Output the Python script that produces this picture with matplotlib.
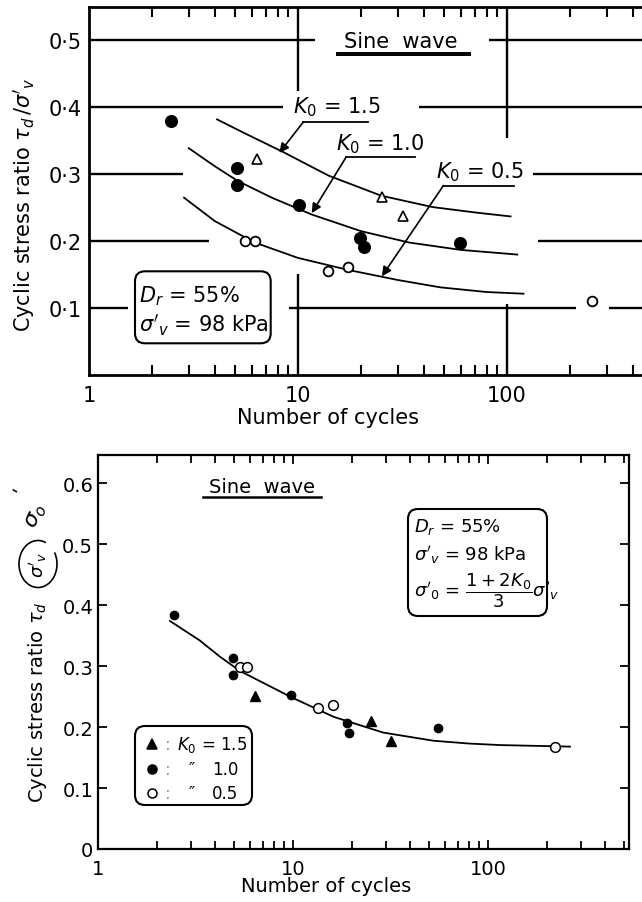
import matplotlib
matplotlib.use("Agg")
import matplotlib.pyplot as plt
from matplotlib.patches import FancyBboxPatch, Arc
from matplotlib.lines import Line2D
from matplotlib.ticker import LogLocator, NullFormatter

plt.rcParams['font.family'] = ['DejaVu Sans']
plt.rcParams['mathtext.fontset'] = 'dejavusans'

# upper chart: tau_d / sigma'_v against number of cycles
k15_n = [6.4, 25.3, 31.7]
k15_r = [0.323, 0.266, 0.238]
k10_n = [2.48, 5.08, 5.08, 10.1, 19.9, 20.6, 59.7]
k10_r = [0.380, 0.309, 0.284, 0.254, 0.205, 0.192, 0.197]
k05_n = [5.58, 6.22, 13.9, 17.4, 254]
k05_r = [0.201, 0.201, 0.156, 0.162, 0.110]

# hand drawn curves for each K0
c15_n = [4.1, 5.5, 8.4, 14, 25, 44, 70, 104]
c15_r = [0.382, 0.362, 0.334, 0.298, 0.268, 0.251, 0.243, 0.237]
c10_n = [3.0, 4.0, 5.15, 7.5, 11.6, 20, 34, 60, 112]
c10_r = [0.339, 0.312, 0.290, 0.265, 0.240, 0.215, 0.198, 0.187, 0.180]
c05_n = [2.85, 4.0, 6.2, 10, 17.4, 30, 48, 80, 120]
c05_r = [0.265, 0.230, 0.198, 0.175, 0.157, 0.142, 0.131, 0.124, 0.1215]

# lower chart: tau_d / sigma'_0
b15_n = [6.38, 25.0, 31.8]
b15_r = [0.251, 0.210, 0.177]
b10_n = [2.45, 4.91, 4.94, 9.77, 18.8, 19.4, 55.2]
b10_r = [0.384, 0.313, 0.285, 0.2525, 0.207, 0.190, 0.198]
b05_n = [5.35, 5.83, 13.5, 16.0, 220]
b05_r = [0.298, 0.298, 0.231, 0.236, 0.167]
bc_n = [2.34, 3.33, 4.2, 5.35, 9.85, 16.1, 29, 52.5, 80, 115, 263]
bc_r = [0.374, 0.342, 0.316, 0.292, 0.2487, 0.217, 0.191, 0.1776, 0.173, 0.1705, 0.168]

top_yticks = [0.1, 0.2, 0.3, 0.4, 0.5]
top_ylabels = ['0·1', '0·2', '0·3', '0·4', '0·5']
bot_yticks = [0, 0.1, 0.2, 0.3, 0.4, 0.5, 0.6]
bot_ylabels = ['0', '0.1', '0.2', '0.3', '0.4', '0.5', '0.6']
xticks = [1, 10, 100]
xlabels = ['1', '10', '100']

W, H = 642, 903
fig = plt.figure(figsize=(W / 100, H / 100), dpi=100)
page = fig.dpi_scale_trans


def pin(px, py):
    # pixel position from the top-left corner -> inches for dpi_scale_trans
    return px / 100, (H - py) / 100


# ---------------- upper chart ----------------
ax1 = fig.add_axes([89 / W, (H - 376) / H, 627 / W, 368 / H])
ax1.set_xscale('log')
ax1.set_xlim(1, 1000)
ax1.set_ylim(0, 0.55)
for s in ax1.spines.values():
    s.set_linewidth(2.0)
ax1.spines['right'].set_visible(False)
ax1.set_xticks(xticks, xlabels)
ax1.xaxis.set_minor_locator(LogLocator(base=10, subs=range(2, 10)))
ax1.xaxis.set_minor_formatter(NullFormatter())
ax1.tick_params(axis='x', which='major', length=0, pad=7, labelsize=15)
ax1.tick_params(axis='x', which='minor', direction='in', length=7.5, width=1.5,
                top=True, bottom=True)
ax1.set_yticks(top_yticks, top_ylabels)
ax1.tick_params(axis='y', length=0, pad=5, labelsize=15)

# broken grid lines, left open around the labels
grid_h = {0.5: [(1, 12.05), (82.0, 1000)],
          0.4: [(1, 8.51), (38.1, 1000)],
          0.3: [(1, 2.81), (133.6, 1000)],
          0.2: [(1, 3.76), (141.2, 1000)],
          0.1: [(1, 1.53), (9.09, 213.8), (308.6, 1000)]}
grid_v = {10: [(0.424, 0.55), (0, 0.1514)],
          100: [(0.354, 0.55), (0, 0.1066)]}
for yv, segs in grid_h.items():
    for a, b in segs:
        ax1.hlines(yv, a, b, color='k', lw=1.7)
for xv, segs in grid_v.items():
    for a, b in segs:
        ax1.vlines(xv, a, b, color='k', lw=1.7)

ax1.plot(c15_n, c15_r, 'k-', lw=1.3)
ax1.plot(c10_n, c10_r, 'k-', lw=1.3)
ax1.plot(c05_n, c05_r, 'k-', lw=1.3)
ax1.plot(k15_n, k15_r, '^', ls='none', ms=7, mfc='white', mec='k', mew=1.2, zorder=4)
ax1.plot(k10_n, k10_r, 'o', ls='none', ms=8.4, color='k', zorder=4)
ax1.plot(k05_n, k05_r, 'o', ls='none', ms=7, mfc='white', mec='k', mew=1.3, zorder=4)

arrow = dict(arrowstyle='-|>', color='k', lw=1.2, mutation_scale=14, shrinkA=0, shrinkB=0)
ax1.text(15.4, 0.4016, r'$K_0$ = 1.5', ha='center', va='center', fontsize=15)
ax1.plot([10.6, 21.7], [0.378, 0.378], 'k-', lw=1.3)
ax1.annotate('', xy=(8.14, 0.332), xytext=(10.6, 0.378), arrowprops=arrow)
ax1.text(24.7, 0.347, r'$K_0$ = 1.0', ha='center', va='center', fontsize=15)
ax1.plot([16.97, 36.3], [0.3254, 0.3254], 'k-', lw=1.3)
ax1.annotate('', xy=(11.63, 0.242), xytext=(16.97, 0.3254), arrowprops=arrow)
ax1.text(74.3, 0.3045, r'$K_0$ = 0.5', ha='center', va='center', fontsize=15)
ax1.plot([49.6, 108], [0.283, 0.283], 'k-', lw=1.3)
ax1.annotate('', xy=(25.2, 0.1475), xytext=(49.6, 0.283), arrowprops=arrow)

ax1.text(30.9, 0.4985, 'Sine  wave', ha='center', va='center', fontsize=15)
ax1.plot([15.4, 66.5], [0.4813, 0.4813], 'k-', lw=1.4)
ax1.plot([15.4, 66.5], [0.4776, 0.4776], 'k-', lw=1.4)

fig.add_artist(FancyBboxPatch(pin(135, 344.3), 1.357, 0.72,
                              boxstyle='round,pad=0,rounding_size=0.1',
                              fc='white', ec='k', lw=1.5, transform=page))
fig.text(*pin(139, 296), r'$D_r$ = 55%', transform=page, fontsize=15, va='center')
fig.text(*pin(139, 325), r"$\sigma'_v$ = 98 kPa", transform=page, fontsize=15, va='center')

fig.text(*pin(24, 205), r"Cyclic stress ratio $\tau_d\,/\sigma'_v$", transform=page,
         rotation=90, ha='center', va='center', fontsize=15)
fig.text(*pin(328, 418), 'Number of cycles', transform=page,
         ha='center', va='center', fontsize=15)

# ---------------- lower chart ----------------
ax2 = fig.add_axes([98 / W, (H - 850) / H, 531 / W, 394 / H])
ax2.set_xscale('log')
ax2.set_xlim(1, 528)
ax2.set_ylim(0, 0.6464)
for s in ax2.spines.values():
    s.set_linewidth(1.6)
ax2.set_xticks(xticks, xlabels)
ax2.xaxis.set_minor_locator(LogLocator(base=10, subs=range(2, 10)))
ax2.xaxis.set_minor_formatter(NullFormatter())
ax2.set_yticks(bot_yticks, bot_ylabels)
ax2.tick_params(axis='both', which='both', direction='in', width=1.3,
                top=True, right=True, labelsize=14)
ax2.tick_params(axis='both', which='major', length=6.5)
ax2.tick_params(axis='x', which='minor', length=6)
ax2.tick_params(axis='x', pad=7)
ax2.tick_params(axis='y', pad=3.5)

ax2.plot(bc_n, bc_r, 'k-', lw=1.3)
ax2.plot(b15_n, b15_r, '^', ls='none', ms=6.5, color='k', zorder=4)
ax2.plot(b10_n, b10_r, 'o', ls='none', ms=6, color='k', zorder=4)
ax2.plot(b05_n, b05_r, 'o', ls='none', ms=7, mfc='white', mec='k', mew=1.1, zorder=4)

ax2.text(6.93, 0.595, 'Sine  wave', ha='center', va='center', fontsize=14)
ax2.plot([3.45, 13.9], [0.5767, 0.5767], 'k-', lw=1.8)

# info box
fig.add_artist(FancyBboxPatch(pin(408, 617), 1.39, 1.07,
                              boxstyle='round,pad=0,rounding_size=0.1',
                              fc='white', ec='k', lw=1.5, transform=page))
fig.text(*pin(414, 527), r'$D_r$ = 55%', transform=page, fontsize=13, va='center')
fig.text(*pin(414, 555), r"$\sigma'_v$ = 98 kPa", transform=page, fontsize=13, va='center')
fig.text(*pin(414, 591), r"$\sigma'_0$ = $\dfrac{1 + 2K_0}{3}\sigma'_v$", transform=page,
         fontsize=13, va='center')

# symbol key
fig.add_artist(FancyBboxPatch(pin(135, 806), 1.17, 0.79,
                              boxstyle='round,pad=0,rounding_size=0.1',
                              fc='white', ec='k', lw=1.5, transform=page))
key_rows = [(745, '^', 'k', r'$K_0$ = 1.5', 177),
            (770, 'o', 'k', '1.0', 212),
            (794, 'o', 'white', '0.5', 212)]
for py, mk, face, lab, tx in key_rows:
    mx, my = pin(152, py)
    fig.add_artist(Line2D([mx], [my], marker=mk, ms=6.5, mfc=face, mec='k', mew=1.1,
                          ls='none', transform=page))
    fig.text(*pin(168, py), ':', transform=page, fontsize=12, va='center',
             ha='center', color='#999999')
    if tx > 200:
        fig.text(*pin(192, py), '″', transform=page, fontsize=12, va='center', ha='center')
    fig.text(*pin(tx, py), lab, transform=page, fontsize=12, va='center')

fig.text(*pin(38, 702), r'Cyclic stress ratio $\tau_d$', transform=page,
         rotation=90, ha='center', va='center', fontsize=14)
fig.text(*pin(38, 565), r"$\sigma'_v$", transform=page,
         rotation=90, ha='center', va='center', fontsize=13)
cx, cy = pin(38, 565)
fig.add_artist(Arc((cx, cy), 0.38, 0.47, theta1=70, theta2=395, lw=1.2, color='k',
                   transform=page))
fig.text(*pin(36, 517), r'$\sigma_o$', transform=page, rotation=65,
         ha='center', va='center', fontsize=16)
fig.text(*pin(19, 492), "'", transform=page, rotation=60,
         ha='center', va='center', fontsize=14)
fig.text(*pin(326, 887), 'Number of cycles', transform=page,
         ha='center', va='center', fontsize=14)

fig.savefig('out.png', dpi=100, facecolor='white')
